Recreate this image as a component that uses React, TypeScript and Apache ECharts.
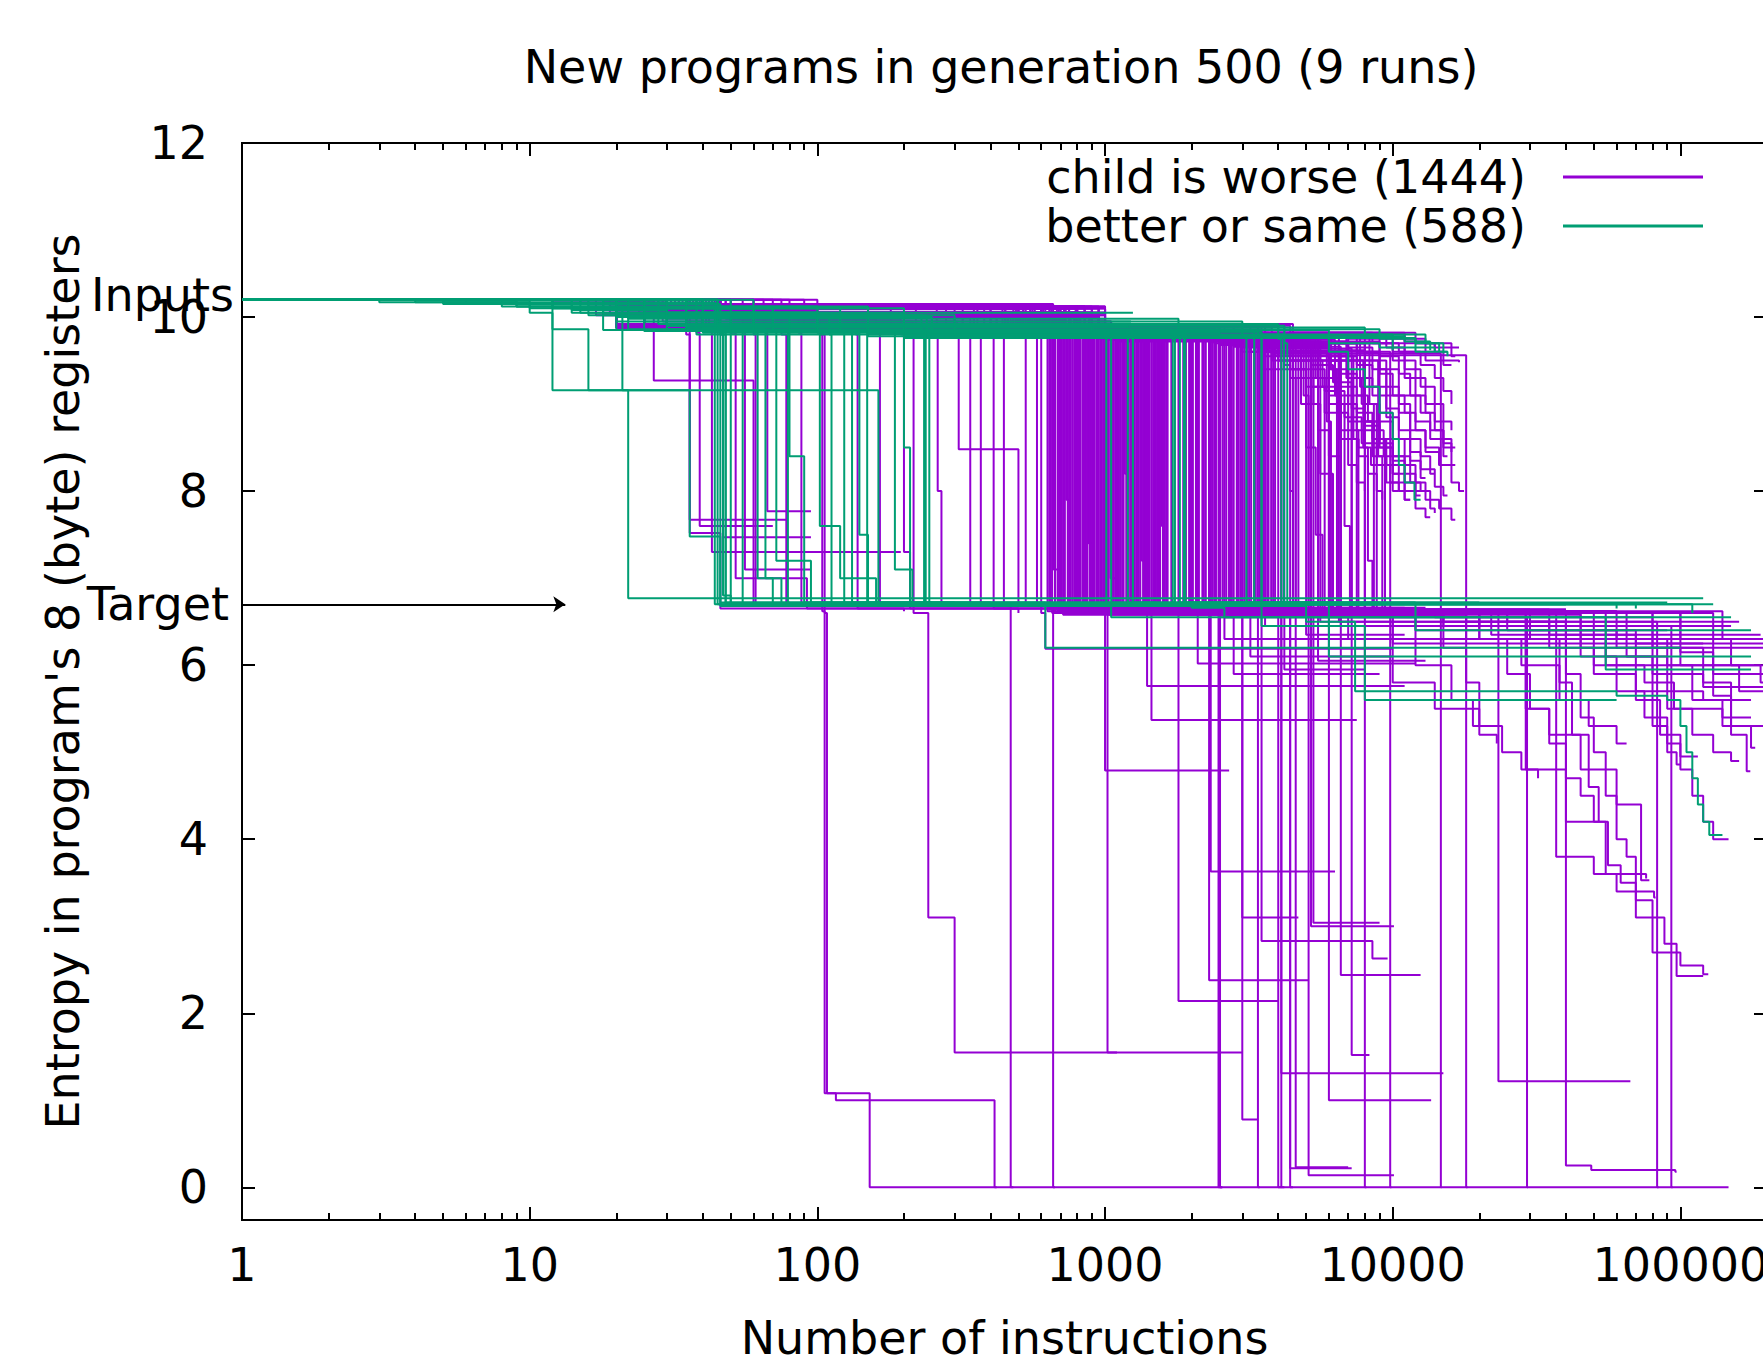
import React, { useEffect, useRef } from "react";
import * as echarts from "echarts";

const TITLE = "New programs in generation 500 (9 runs)";
const X_NAME = "Number of instructions";
const Y_NAME = "Entropy in program's 8 (byte) registers";
const WORSE_NAME = "child is worse (1444)";
const BETTER_NAME = "better or same (588)";
const WORSE_COLOR = "#9400D3";
const BETTER_COLOR = "#009E73";

const X_MIN = 1;
const X_MAX = 200000;
const Y_MIN = -0.375;
const Y_MAX = 12;
const X_TICKS = [1, 10, 100, 1000, 10000, 100000];
const X_MINOR_MULT = [2, 3, 4, 5, 6, 7, 8, 9];
const Y_TICKS = [0, 2, 4, 6, 8, 10, 12];

const INPUTS_ENTROPY = 10.2;
const TARGET_ENTROPY = 6.7;
const TARGET_ARROW_END = 13.3;
const ANNOTATIONS = [
  { label: "Inputs", y: 10.25, dist: 8 },
  { label: "Target", y: 6.7, dist: 13 },
];

// Each trace starts at (1, INPUTS_ENTROPY); pairs are (instructions, entropy), drawn as steps.
const worseTraces: number[][] = [
  // top band, early part
  [2, 10.2, 18, 10.17, 24, 10.17],
  [12, 10.17, 30, 10.15, 46, 10.15],
  [9, 10.15, 20, 10.12, 46, 10.1, 57, 10.1],
  [25, 10.12, 60, 10.08, 100, 10.05, 200, 10.03, 300, 10.03],
  [15, 10.15, 60, 10.12, 260, 10.12],
  [20, 10.12, 35, 10.09, 520, 10.09],
  [22, 10.1, 30, 10.02, 960, 10.02],
  [26, 10.08, 100, 9.92, 1840, 9.92],
  // left verticals
  [20, 10.17, 27, 9.27, 57, 9.27, 60, 6.7, 600, 6.65],
  [25, 10.15, 36, 7.52, 46, 6.65, 200, 6.62],
  [30, 10.12, 35, 9.8, 36, 7.67, 79, 7.67],
  [30, 10.1, 38, 9.82, 39, 7.6, 70, 7.6],
  [32, 10.1, 42, 9.85, 43, 7.3, 195, 7.3],
  [35, 10.1, 46, 9.8, 47, 7.47, 95, 7.47],
  [35, 10.08, 50, 9.82, 52, 7.0, 90, 7.0, 92, 6.65, 500, 6.6],
  [36, 10.08, 55, 9.85, 56, 7.1, 95, 7.1],
  [38, 10.05, 60, 9.8, 61, 6.7, 300, 6.68],
  [40, 10.05, 66, 9.82, 67, 7.77, 95, 7.77],
  [42, 10.05, 75, 9.8, 78, 6.7, 1500, 6.6],
  [44, 10.02, 86, 9.82, 88, 6.7, 4000, 6.6],
  [46, 10.02, 100, 9.85, 104, 6.62, 106, 1.08, 116, 1.0, 413, 0, 420, 0],
  [46, 10.0, 102, 9.8, 106, 6.6, 108, 1.08, 152, 0, 147000, 0],
  [48, 10.0, 136, 9.8, 138, 6.65, 3000, 6.6],
  [48, 9.98, 160, 9.82, 165, 6.7, 2000, 6.62],
  [50, 9.98, 195, 9.8, 200, 7.3, 210, 6.65, 800, 6.6],
  [50, 9.95, 214, 9.82, 216, 6.6, 243, 3.1, 300, 1.55, 3000, 1.55],
  [55, 9.95, 306, 9.8, 310, 8.48, 480, 8.48, 500, 6.7, 1000, 6.62],
  [60, 9.92, 335, 9.82, 340, 6.7, 5000, 6.6],
  [60, 9.9, 367, 9.8, 370, 6.7, 470, 0, 480, 0],
  [65, 9.9, 400, 9.82, 410, 6.65, 660, 0, 670, 0],
  [70, 9.88, 440, 9.8, 445, 6.7, 8000, 6.6],
  [75, 9.85, 526, 9.82, 530, 6.7, 1000, 4.79, 2700, 4.79],
  [80, 9.85, 574, 9.8, 580, 6.7, 1800, 2.14, 4000, 2.14],
  [90, 9.85, 260, 9.8, 262, 8.0, 270, 6.7, 1200, 6.65],
  [100, 9.85, 800, 9.8, 1020, 1.55, 1100, 1.55],
  // dense block
  [20, 10.1, 150, 9.82, 631, 6.62, 3000, 6.62],
  [25, 10.05, 200, 9.8, 648, 6.66, 1500, 6.66],
  [30, 10.12, 180, 9.84, 662, 7.1, 700, 6.62, 9000, 6.62],
  [35, 10.02, 250, 9.78, 684, 6.6, 20000, 6.6],
  [40, 10.1, 300, 9.82, 698, 6.64, 5000, 6.64],
  [18, 10.15, 220, 9.8, 715, 6.58, 12000, 6.58],
  [22, 10.05, 350, 9.85, 733, 7.9, 760, 7.9],
  [28, 10.1, 260, 9.8, 742, 6.65, 2500, 6.65],
  [33, 10.02, 400, 9.83, 760, 6.6, 7000, 6.3, 50000, 6.3],
  [38, 10.12, 280, 9.78, 781, 6.7, 1800, 6.7],
  [42, 10.05, 320, 9.82, 796, 6.6, 900, 6.6],
  [45, 10.1, 450, 9.8, 812, 6.62, 30000, 6.62],
  [15, 10.15, 500, 9.84, 834, 6.66, 4000, 6.66],
  [20, 10.12, 380, 9.79, 851, 6.6, 15000, 6.45, 100000, 6.45],
  [26, 10.02, 420, 9.82, 876, 7.4, 900, 7.4],
  [31, 10.1, 520, 9.8, 890, 6.62, 2200, 6.62],
  [36, 10.05, 480, 9.83, 912, 6.6, 10000, 6.25, 120000, 6.25],
  [41, 10.12, 550, 9.78, 934, 6.68, 1600, 6.68],
  [46, 10.02, 300, 9.8, 950, 6.6, 25000, 6.6],
  [17, 10.1, 600, 9.82, 975, 6.62, 3500, 6.62],
  [23, 10.15, 350, 9.84, 998, 6.64, 7000, 6.64],
  [29, 10.05, 450, 9.8, 1030, 6.58, 45000, 6.2, 200000, 6.2],
  [34, 10.1, 500, 9.78, 1044, 7.0, 1100, 7.0],
  [39, 10.02, 400, 9.82, 1070, 6.62, 2000, 6.62],
  [44, 10.12, 550, 9.8, 1095, 6.66, 13000, 6.66],
  [19, 10.05, 600, 9.83, 1118, 6.6, 5500, 6.6],
  [24, 10.1, 620, 9.79, 1150, 6.62, 18000, 6.5, 160000, 6.5],
  [30, 10.02, 640, 9.82, 1172, 8.2, 1200, 8.2],
  [35, 10.15, 660, 9.8, 1195, 6.64, 3000, 6.64],
  [40, 10.05, 700, 9.84, 1228, 6.6, 60000, 6.6],
  [45, 10.1, 720, 9.78, 1252, 6.62, 8000, 6.62],
  [16, 10.12, 750, 9.82, 1283, 6.68, 2600, 6.68],
  [21, 10.02, 780, 9.8, 1310, 6.6, 22000, 6.35, 190000, 6.35],
  [27, 10.1, 800, 9.83, 1342, 7.2, 1380, 7.2],
  [32, 10.05, 820, 9.79, 1370, 6.62, 4500, 6.62],
  [37, 10.12, 850, 9.82, 1402, 6.66, 11000, 6.66],
  [43, 10.02, 880, 9.8, 1430, 6.6, 35000, 6.6],
  [18, 10.1, 900, 9.84, 1470, 6.62, 6000, 6.62],
  [24, 10.05, 950, 9.78, 1500, 6.64, 2400, 6.64],
  [29, 9.95, 1000, 9.82, 1540, 6.6, 14000, 6.55, 80000, 6.55],
  [35, 9.95, 1050, 9.8, 1575, 7.6, 1600, 7.6],
  [41, 9.92, 1100, 9.83, 1610, 6.62, 9500, 6.62],
  [46, 9.9, 1150, 9.79, 1650, 6.66, 3800, 6.66],
  [20, 10.02, 300, 9.8, 655, 6.6, 1000, 6.6],
  [25, 10.1, 320, 9.81, 692, 6.62, 2000, 6.62],
  [30, 10.05, 340, 9.79, 725, 6.64, 1300, 6.64],
  [35, 10.12, 360, 9.8, 770, 6.6, 3000, 6.6],
  [40, 10.02, 380, 9.82, 805, 6.62, 1100, 6.62],
  [45, 10.1, 400, 9.8, 842, 6.6, 6000, 6.6],
  [18, 10.05, 420, 9.79, 866, 6.64, 1500, 6.64],
  [23, 10.15, 440, 9.81, 901, 6.6, 2500, 6.6],
  [28, 10.02, 460, 9.8, 942, 6.62, 4000, 6.62],
  [33, 10.1, 480, 9.82, 986, 6.6, 1800, 6.6],
  [38, 10.05, 500, 9.79, 1057, 6.64, 9000, 6.64],
  [43, 10.12, 520, 9.8, 1106, 6.6, 3000, 6.6],
  [17, 10.02, 540, 9.82, 1160, 6.62, 2200, 6.62],
  [22, 10.1, 560, 9.79, 1210, 6.6, 7000, 6.6],
  [27, 10.05, 580, 9.8, 1267, 6.64, 5000, 6.64],
  [32, 10.15, 600, 9.81, 1326, 6.6, 2000, 6.6],
  [37, 10.02, 620, 9.8, 1387, 6.62, 16000, 6.62],
  [42, 10.1, 640, 9.82, 1452, 6.6, 4000, 6.6],
  [46, 10.05, 660, 9.79, 1518, 6.64, 2500, 6.64],
  [19, 10.12, 680, 9.8, 1589, 6.6, 8000, 6.6],
  [24, 10.02, 700, 9.81, 1630, 6.62, 3000, 6.62],
  [26, 10.1, 450, 9.8, 640, 6.64, 1200, 6.64],
  [31, 10.05, 470, 9.82, 670, 6.6, 2500, 6.6],
  [36, 10.12, 490, 9.79, 707, 6.62, 1400, 6.62],
  [41, 10.02, 510, 9.8, 750, 6.6, 4000, 6.6],
  [21, 10.1, 530, 9.81, 788, 6.64, 2000, 6.64],
  [26, 10.05, 550, 9.8, 820, 6.6, 5000, 6.6],
  [31, 10.12, 570, 9.82, 858, 6.62, 1300, 6.62],
  [36, 10.02, 590, 9.79, 883, 6.6, 3000, 6.6],
  [41, 10.1, 610, 9.8, 920, 6.64, 7000, 6.64],
  [46, 10.05, 630, 9.81, 962, 6.6, 2000, 6.6],
  [21, 10.15, 650, 9.8, 1010, 6.62, 6000, 6.62],
  [26, 10.02, 670, 9.82, 1084, 6.6, 3500, 6.6],
  [31, 10.1, 690, 9.79, 1135, 6.64, 10000, 6.64],
  [36, 10.05, 710, 9.8, 1185, 6.6, 2500, 6.6],
  [41, 10.12, 730, 9.81, 1240, 6.62, 4500, 6.62],
  [46, 10.02, 760, 9.8, 1297, 6.6, 12000, 6.6],
  [21, 10.1, 790, 9.82, 1356, 6.64, 3000, 6.64],
  [26, 10.05, 820, 9.79, 1419, 6.6, 9000, 6.6],
  [31, 10.12, 850, 9.8, 1485, 6.62, 5000, 6.62],
  [36, 10.02, 880, 9.81, 1553, 6.6, 2200, 6.6],
  // right part of the block
  [20, 10.02, 900, 9.78, 1870, 6.6, 7000, 6.6],
  [25, 10.0, 950, 9.8, 1910, 6.62, 26000, 6.62],
  [30, 9.98, 1000, 9.76, 1960, 6.64, 5000, 6.64],
  [35, 9.95, 1050, 9.8, 2020, 6.6, 12000, 6.4, 90000, 6.4],
  [40, 9.92, 1100, 9.78, 2070, 6.62, 3300, 6.62],
  [45, 9.9, 1150, 9.8, 2120, 6.6, 16000, 6.6],
  [20, 9.88, 1200, 9.76, 2180, 6.64, 8000, 6.64],
  [25, 9.9, 1250, 9.8, 2240, 6.6, 45000, 6.6],
  [30, 9.92, 1300, 9.78, 2300, 6.62, 4200, 6.62],
  [35, 9.88, 1350, 9.8, 2360, 6.6, 10000, 6.6],
  [40, 9.9, 1400, 9.76, 2430, 6.64, 20000, 6.3, 140000, 6.3],
  [45, 9.92, 1450, 9.8, 2480, 0, 2550, 0],
  [20, 9.88, 1500, 9.78, 2510, 0, 2560, 0],
  [25, 9.9, 1550, 9.76, 2560, 6.62, 6000, 6.62],
  [30, 9.92, 1600, 9.8, 2640, 6.6, 30000, 6.6],
  [35, 9.88, 1650, 9.78, 2720, 6.62, 5500, 6.62],
  [40, 9.9, 1700, 9.76, 2800, 6.6, 14000, 6.6],
  [45, 9.92, 1750, 9.8, 2870, 6.64, 9000, 6.64],
  [20, 9.88, 1800, 9.78, 3050, 6.6, 70000, 6.6],
  [25, 9.9, 1850, 9.76, 3130, 6.62, 7500, 6.62],
  [30, 9.92, 1900, 9.8, 3220, 6.6, 18000, 6.6],
  [35, 9.88, 1950, 9.78, 3320, 6.64, 5000, 6.64],
  [40, 9.9, 2000, 9.76, 3400, 0, 3450, 0],
  [45, 9.92, 2050, 9.8, 3450, 6.6, 12000, 6.6],
  [20, 9.88, 2100, 9.78, 3560, 6.62, 25000, 6.62],
  [25, 9.9, 2150, 9.76, 3680, 6.6, 8500, 6.6],
  [30, 9.92, 2200, 9.8, 3780, 6.64, 40000, 6.64],
  [35, 9.88, 2250, 9.78, 3900, 6.6, 11000, 6.6],
  [40, 9.9, 2300, 9.76, 4000, 0, 4100, 0],
  [45, 9.92, 2350, 9.8, 4100, 0, 4200, 0],
  [20, 9.88, 2400, 9.78, 4200, 6.62, 15000, 6.62],
  [25, 10.02, 700, 9.78, 1890, 6.62, 3000, 6.62],
  [30, 10.1, 750, 9.79, 1990, 6.6, 4000, 6.6],
  [35, 10.05, 800, 9.8, 2090, 6.64, 2600, 6.64],
  [40, 10.12, 850, 9.77, 2200, 6.6, 5000, 6.6],
  [45, 10.02, 900, 9.78, 2330, 6.62, 3500, 6.62],
  [20, 10.1, 950, 9.8, 2600, 6.6, 6000, 6.6],
  [25, 10.05, 1000, 9.78, 2760, 6.64, 4500, 6.64],
  [30, 9.9, 1050, 9.79, 2950, 6.6, 8000, 6.6],
  [35, 9.92, 1100, 9.77, 3170, 6.62, 5200, 6.62],
  [40, 9.88, 1150, 9.78, 3380, 6.6, 7000, 6.6],
  [45, 9.9, 1200, 9.8, 3620, 6.64, 9000, 6.64],
  [20, 9.92, 1250, 9.79, 3840, 6.6, 6000, 6.6],
  // drops to low entropy
  [30, 10.05, 800, 9.8, 3000, 9.75, 4400, 0, 4500, 0],
  [35, 10.1, 850, 9.8, 3000, 9.72, 4600, 0.23, 7000, 0.23],
  [40, 10.02, 900, 9.78, 3100, 9.7, 5100, 0.14, 10100, 0.14],
  [45, 10.12, 950, 9.8, 3200, 9.7, 5300, 3.04, 9000, 3.04],
  [20, 10.05, 1000, 9.79, 3300, 9.68, 6000, 1.0, 13600, 1.0],
  [25, 9.9, 1050, 9.8, 3400, 9.66, 6600, 2.44, 12500, 2.44],
  [30, 9.92, 1100, 9.78, 3500, 9.64, 7200, 1.52, 8300, 1.52],
  [35, 9.88, 1150, 9.8, 3600, 9.62, 8000, 0, 8100, 0],
  [40, 9.9, 1200, 9.79, 3700, 9.6, 9800, 0, 9900, 0],
  [45, 9.92, 1250, 9.8, 3800, 9.58, 14700, 0, 14800, 0],
  [20, 9.88, 1300, 9.78, 3900, 9.56, 18000, 0, 18200, 0],
  [25, 9.9, 1350, 9.8, 4000, 9.55, 4100, 1.31, 15000, 1.31],
  [30, 10.05, 900, 9.76, 2300, 2.38, 5100, 2.38],
  [35, 10.1, 950, 9.75, 3500, 2.83, 8500, 2.63, 9600, 2.63],
  [40, 10.02, 1000, 9.74, 3000, 0.78, 3400, 0.78],
  [45, 9.9, 1050, 9.74, 3000, 3.1, 4700, 3.1],
  [20, 9.92, 1100, 9.72, 5200, 3.0, 10100, 3.0],
  [25, 10.1, 1000, 9.78, 2330, 3.63, 6300, 3.63],
  [30, 9.9, 1200, 9.8, 4000, 9.6, 4500, 6.6, 23300, 1.22, 67000, 1.22],
  [35, 9.88, 1300, 9.8, 5000, 9.6, 5500, 6.55, 29300, 0, 29500, 0],
  [40, 9.9, 1400, 9.79, 5000, 9.6, 5600, 6.5, 40000, 0.25, 49000, 0.2, 96000, 0.18, 97000, 0.18],
  [45, 9.92, 1500, 9.8, 6000, 9.5, 6500, 6.5, 83000, 0, 84000, 0],
  [20, 9.88, 1600, 9.78, 6000, 9.5, 6600, 6.45, 93000, 0, 94000, 0],
  [25, 10.12, 1000, 9.78, 1600, 6.6, 4400, 0.22, 7200, 0.22],
  // upper right fan
  [30, 10.05, 500, 9.8, 5000, 9.7, 7000, 9.5, 8000, 9.2, 9000, 8.9, 10000, 8.6, 11000, 8.3, 12000, 8.1, 13000, 7.9, 14500, 7.8, 16000, 7.67, 16500, 7.67],
  [35, 10.1, 600, 9.82, 6000, 9.7, 8000, 9.5, 9500, 9.2, 10500, 9.0, 11500, 8.7, 13000, 8.5, 14500, 8.3, 16000, 8.1, 17000, 8.0, 17700, 8.0],
  [40, 10.02, 700, 9.8, 4500, 9.65, 6000, 9.4, 7000, 9.1, 8000, 8.8, 9000, 8.5, 10000, 8.2, 11000, 8.0, 12000, 7.8, 13000, 7.7, 13500, 7.7],
  [45, 10.12, 800, 9.78, 5000, 9.6, 6500, 9.2, 7500, 8.9, 8500, 8.6, 9500, 8.3, 10500, 8.0, 11000, 7.9, 11500, 7.9],
  [20, 10.05, 900, 9.8, 7000, 9.75, 10000, 9.6, 13000, 9.5, 15000, 9.45, 16000, 9.45],
  [25, 10.1, 1000, 9.82, 8000, 9.8, 11000, 9.7, 14000, 9.6, 15500, 9.6],
  [30, 9.9, 1100, 9.78, 4000, 9.6, 5500, 9.3, 6500, 9.0, 7500, 8.7, 8500, 8.4, 9500, 8.1, 10000, 8.0, 10500, 8.0],
  [35, 9.92, 1200, 9.8, 6000, 9.5, 7000, 9.3, 8000, 9.0, 9000, 8.8, 10000, 8.4, 11000, 8.2, 12000, 8.0, 13500, 7.8, 14000, 7.75],
  [40, 9.9, 1300, 9.82, 9000, 9.7, 11000, 9.5, 12000, 9.3, 13000, 9.0, 14000, 8.8, 15000, 8.5, 16000, 8.3, 16500, 8.3],
  [45, 9.88, 1400, 9.78, 3000, 9.6, 4500, 9.3, 6000, 9.1, 7000, 8.8, 8500, 8.5, 10000, 8.2, 10500, 8.2],
  [20, 9.9, 1500, 9.8, 10000, 9.75, 13000, 9.7, 16000, 9.65, 17000, 9.65],
  [25, 9.92, 1600, 9.76, 5500, 9.6, 6500, 9.35, 7500, 9.1, 8200, 8.8, 9000, 8.6, 10000, 8.4, 11500, 8.1, 12500, 8.0, 13000, 8.0],
  [30, 9.88, 1700, 9.78, 7500, 9.6, 9000, 9.4, 10500, 9.1, 12000, 8.8, 13500, 8.6, 15000, 8.4, 15500, 8.4],
  [35, 9.9, 1800, 9.8, 4000, 9.5, 5000, 9.2, 5800, 8.9, 6500, 8.6, 7000, 8.3, 7500, 8.1, 8000, 8.0],
  [40, 9.92, 1900, 9.75, 3500, 9.4, 4800, 9.0, 5500, 8.7, 6000, 8.4, 6600, 8.2],
  [20, 10.1, 600, 9.78, 6000, 9.55, 7000, 9.3, 7800, 9.0, 8600, 8.7, 9300, 8.4, 10000, 8.1, 11000, 7.9, 11500, 7.9],
  [25, 10.05, 700, 9.8, 7000, 9.65, 8500, 9.4, 9500, 9.1, 10500, 8.9, 11500, 8.6, 12500, 8.4, 13500, 8.2, 14000, 8.2],
  [30, 10.1, 800, 9.82, 8500, 9.7, 10000, 9.5, 11000, 9.3, 12000, 9.1, 13000, 8.9, 14000, 8.7, 15000, 8.6, 16000, 8.5, 16500, 8.5],
  [35, 10.02, 900, 9.8, 5000, 9.5, 5700, 9.2, 6400, 8.9, 7000, 8.6, 7600, 8.4, 8200, 8.2, 8800, 8.0, 9200, 7.9],
  [40, 10.12, 1000, 9.78, 6500, 9.55, 7500, 9.3, 8500, 9.1, 9500, 8.85, 10500, 8.6, 11500, 8.35, 12500, 8.15, 13000, 8.15],
  [45, 9.9, 1100, 9.8, 9500, 9.65, 11000, 9.4, 12500, 9.2, 14000, 9.0, 15000, 8.8, 16000, 8.7],
  [20, 9.92, 1200, 9.82, 11000, 9.72, 13000, 9.6, 15000, 9.5, 17000, 9.48],
  [25, 9.88, 1300, 9.78, 4500, 9.5, 5200, 9.2, 6000, 9.0, 6800, 8.7, 7600, 8.5, 8400, 8.3, 9000, 8.3],
  [30, 9.9, 1400, 9.8, 8000, 9.6, 9000, 9.35, 10000, 9.1, 11000, 8.9, 12000, 8.7, 13000, 8.45, 14500, 8.3, 15000, 8.3],
  [35, 9.92, 1500, 9.82, 12000, 9.7, 14000, 9.65, 16000, 9.55, 16500, 9.55],
  [20, 9.9, 3000, 9.7, 7500, 9.45, 8500, 9.2, 9500, 8.95, 10500, 8.7, 11500, 8.45, 12500, 8.25, 14000, 8.05, 15000, 7.95, 15500, 7.95],
  [25, 9.88, 3500, 9.72, 9000, 9.55, 10500, 9.35, 11500, 9.1, 12500, 8.9, 13500, 8.7, 15000, 8.55, 16000, 8.45],
  [30, 9.9, 2500, 9.68, 5200, 9.45, 6200, 9.25, 7200, 8.95, 8000, 8.75, 9000, 8.55, 10000, 8.35, 11000, 8.1, 12000, 7.95, 12500, 7.95],
  [35, 9.92, 4500, 9.7, 10500, 9.6, 12500, 9.45, 14000, 9.3, 15000, 9.15, 16000, 9.0],
  [40, 9.9, 2800, 9.66, 4800, 9.4, 5800, 9.15, 6800, 8.85, 7800, 8.55, 8800, 8.3, 9800, 8.1, 10500, 8.0],
  // fan traces that fall to the target band
  [40, 9.9, 2000, 9.76, 4500, 9.4, 5000, 6.6, 30000, 6.55],
  [45, 9.92, 2000, 9.74, 5400, 9.3, 5800, 6.62, 12000, 6.62],
  [20, 9.88, 2200, 9.74, 6300, 9.1, 6600, 6.6, 20000, 6.45, 150000, 6.45],
  [25, 9.9, 2300, 9.72, 7000, 9.0, 7500, 6.62, 60000, 6.62],
  [30, 9.92, 2400, 9.7, 8000, 8.8, 8600, 6.6, 40000, 6.6],
  [35, 9.88, 2500, 9.7, 9000, 8.6, 9400, 6.62, 16000, 6.62],
  [40, 10.1, 700, 9.8, 4800, 9.55, 5200, 6.62, 22000, 6.62],
  [45, 10.02, 800, 9.78, 5600, 9.5, 6000, 6.6, 9000, 6.6],
  [20, 10.12, 900, 9.8, 6100, 9.4, 6400, 6.64, 30000, 6.64],
  [25, 10.05, 1000, 9.79, 6900, 9.3, 7200, 6.6, 14000, 6.6],
  [30, 9.9, 1100, 9.8, 7700, 9.2, 8000, 6.62, 50000, 6.62],
  [35, 9.92, 1200, 9.78, 8300, 9.0, 8800, 6.6, 25000, 6.6],
  [40, 9.88, 1300, 9.8, 4300, 9.6, 4700, 6.64, 10000, 6.64],
  [30, 9.9, 2600, 9.7, 4400, 9.3, 4600, 6.62, 20000, 6.62],
  [35, 9.9, 2800, 9.7, 4900, 9.1, 5100, 6.6, 9000, 6.6],
  [40, 9.88, 3000, 9.65, 5300, 9.0, 5600, 8.2, 6200, 6.64, 40000, 6.64],
  [45, 9.9, 3200, 9.6, 5900, 8.8, 6100, 6.6, 12000, 6.6],
  [20, 9.92, 3400, 9.6, 6500, 8.7, 6800, 7.6, 7100, 6.62, 18000, 6.62],
  [25, 9.9, 3600, 9.55, 7300, 8.6, 7600, 6.6, 30000, 6.6],
  [30, 9.88, 3800, 9.5, 7900, 8.5, 8200, 7.2, 8500, 6.62, 11000, 6.62],
  [35, 9.9, 4000, 9.5, 8900, 8.4, 9200, 6.6, 60000, 6.6],
  [40, 9.92, 4200, 9.45, 4400, 8.0, 4500, 6.64, 8000, 6.64],
  [45, 9.9, 4400, 9.4, 5000, 8.5, 5400, 7.5, 5700, 6.6, 14000, 6.6],
  // mid cluster below the target
  [20, 10.05, 900, 9.8, 2200, 6.6, 2600, 6.3, 9000, 6.3],
  [25, 10.1, 1000, 9.82, 2400, 6.62, 3200, 6.1, 10000, 6.1],
  [30, 9.9, 1100, 9.8, 2700, 6.58, 3600, 6.45, 12000, 6.45],
  [35, 9.92, 1200, 9.79, 3000, 6.6, 4200, 5.95, 8000, 5.95],
  [40, 9.88, 1300, 9.8, 3300, 6.62, 5000, 6.35, 11000, 6.35],
  [45, 9.9, 1400, 9.81, 3600, 6.6, 5500, 6.05, 13000, 6.05],
  [20, 10.05, 300, 9.8, 600, 6.6, 620, 6.19, 10000, 6.19],
  [25, 10.1, 400, 9.8, 1000, 6.6, 1400, 5.76, 11000, 5.76],
  [30, 10.02, 500, 9.8, 1200, 6.6, 1450, 5.37, 7500, 5.37],
  [35, 10.12, 600, 9.8, 2000, 6.6, 2100, 6.02, 12000, 6.02],
  [40, 10.05, 700, 9.8, 2500, 6.55, 2800, 5.9, 9000, 5.9],
  // lower right fan
  [45, 10.1, 500, 9.8, 1100, 6.62, 40000, 5.9, 45000, 5.4, 50000, 5.0, 55000, 4.5, 60000, 4.0, 65000, 3.8, 70000, 3.6, 76000, 3.55],
  [20, 10.02, 600, 9.8, 1200, 6.6, 30000, 6.3, 38000, 5.8, 42000, 5.2, 48000, 4.6, 52000, 4.2, 56000, 3.7, 62000, 3.5, 70000, 3.3, 80000, 3.1, 88000, 2.8, 97000, 2.43, 120000, 2.43],
  [25, 10.12, 700, 9.8, 1300, 6.6, 25000, 6.4, 50000, 6.0, 70000, 5.6, 85000, 5.2, 100000, 4.8, 110000, 4.5, 120000, 4.2, 130000, 4.0, 147000, 4.0],
  [30, 10.05, 800, 9.8, 1400, 6.62, 60000, 6.3, 90000, 6.0, 110000, 5.6, 140000, 5.4, 176000, 5.4],
  [35, 10.1, 900, 9.8, 1500, 6.6, 80000, 6.2, 120000, 5.8, 150000, 5.3, 176000, 5.05, 182000, 5.05],
  [40, 10.02, 1000, 9.8, 1600, 6.62, 29000, 5.5, 35000, 5.2, 45000, 4.8, 60000, 4.4, 73000, 3.53, 78000, 3.53],
  [45, 9.9, 1100, 9.8, 1700, 6.6, 20000, 6.3, 25000, 5.9, 30000, 5.5, 35000, 5.1, 40000, 4.7, 45000, 4.5, 50000, 4.2, 52000, 4.2],
  [20, 9.92, 1200, 9.8, 1800, 6.58, 15000, 6.2, 18000, 5.8, 20000, 5.3, 24000, 5.0, 28000, 4.8, 32000, 4.7],
  [25, 9.88, 1300, 9.8, 1900, 6.6, 100000, 6.3, 150000, 6.0, 190000, 5.8, 200000, 5.8],
  [30, 9.9, 1400, 9.8, 2000, 6.62, 50000, 6.4, 70000, 6.0, 90000, 5.7, 120000, 5.6, 176000, 5.6],
  [35, 9.92, 1500, 9.8, 2100, 6.6, 29000, 4.8, 40000, 4.2, 55000, 3.6, 70000, 3.1, 80000, 2.7, 100000, 2.55, 120000, 2.45, 125000, 2.45],
  [40, 9.88, 1600, 9.8, 2200, 6.6, 37000, 3.8, 50000, 3.6, 60000, 3.4, 81000, 3.33, 82000, 3.33],
  [45, 9.9, 1700, 9.8, 2300, 6.6, 80000, 5.3, 90000, 5.0, 97000, 4.86, 100000, 4.86],
  [20, 9.92, 1800, 9.8, 2400, 6.6, 130000, 5.65, 150000, 5.2, 170000, 4.78, 175000, 4.78],
  [25, 9.88, 1900, 9.8, 2500, 6.62, 10000, 5.8, 14000, 5.5, 20000, 5.2, 23000, 5.1],
  [30, 9.9, 2000, 9.8, 2600, 6.55, 12000, 6.0, 16000, 5.6, 19000, 5.3, 21000, 5.3],
  [20, 10.1, 600, 9.8, 1900, 6.62, 25000, 6.5, 40000, 6.3, 55000, 6.1, 80000, 5.9, 120000, 5.75, 200000, 5.75],
  [25, 10.05, 700, 9.82, 2100, 6.6, 30000, 6.4, 60000, 6.2, 100000, 6.0, 160000, 5.9, 200000, 5.9],
  [30, 10.12, 800, 9.79, 2300, 6.64, 15000, 6.5, 35000, 6.2, 50000, 5.9, 70000, 5.7, 90000, 5.5, 110000, 5.2, 130000, 5.0, 150000, 4.9, 160000, 4.9],
  [35, 10.02, 900, 9.8, 2500, 6.6, 45000, 6.1, 60000, 5.7, 75000, 5.4, 90000, 5.1, 100000, 4.95, 115000, 4.95],
  [40, 10.1, 1000, 9.81, 2700, 6.62, 55000, 6.0, 75000, 5.8, 95000, 5.5, 140000, 5.3, 200000, 5.3],
  [45, 9.9, 1100, 9.8, 2900, 6.58, 18000, 6.3, 28000, 6.0, 38000, 5.6, 48000, 5.3, 60000, 5.1, 65000, 5.1],
  [20, 9.92, 1200, 9.82, 3100, 6.6, 65000, 6.1, 90000, 6.0, 200000, 6.0],
  [25, 9.88, 1300, 9.79, 3300, 6.64, 35000, 6.35, 70000, 6.25, 200000, 6.25],
  [30, 9.9, 1400, 9.8, 3500, 6.6, 100000, 6.15, 130000, 5.9, 160000, 5.7, 200000, 5.65],
  [35, 9.92, 1500, 9.82, 3700, 6.62, 140000, 6.3, 200000, 6.1],
];

const betterTraces: number[][] = [
  [4, 10.17, 9, 10.12, 20, 10.05, 1250, 10.05],
  [3, 10.17, 10, 10.05, 12, 9.16, 22, 6.77, 120000, 6.77],
  [6, 10.15, 12, 9.86, 16, 9.16, 160, 9.16, 163, 6.7, 700, 6.7],
  [8, 10.12, 21, 9.16, 36, 7.48, 46, 6.68, 2500, 6.68],
  [5, 10.17, 44, 9.85, 45, 6.7, 2000, 6.66, 2600, 6.55, 150000, 6.55],
  [5, 10.15, 46, 9.8, 48, 6.72, 620, 6.2, 100000, 6.2],
  [9, 10.12, 45, 9.9, 47, 6.8, 50, 6.7, 12000, 6.4, 176000, 6.4],
  [10, 10.1, 60, 9.82, 62, 7.0, 75, 6.7, 40000, 6.7],
  [12, 10.1, 70, 9.85, 72, 7.2, 95, 6.72, 6000, 6.1, 176000, 6.1],
  [14, 10.05, 100, 9.85, 102, 7.6, 120, 7.0, 160, 6.7, 8000, 6.7],
  [15, 10.05, 110, 9.8, 112, 6.7, 70000, 6.65],
  [16, 10.02, 230, 9.85, 235, 6.72, 90000, 6.72],
  [18, 10.02, 240, 9.8, 245, 6.68, 5000, 6.5, 7400, 5.7, 60000, 5.65, 90000, 5.6, 100000, 5.3, 105000, 5.0, 110000, 4.7, 115000, 4.4, 120000, 4.2, 126000, 4.05, 140000, 4.05],
  [20, 10.0, 250, 9.82, 1700, 9.8, 1750, 6.7, 130000, 6.7],
  [22, 9.98, 1800, 9.78, 1820, 6.72, 20000, 6.72],
  [25, 9.95, 3000, 9.78, 3100, 6.7, 60000, 6.65],
  [28, 9.92, 4000, 9.75, 4100, 6.7, 110000, 6.6],
  [30, 9.9, 4200, 9.7, 4300, 6.72, 9000, 6.72],
  [35, 9.88, 8000, 9.8, 10000, 9.65, 14000, 9.6],
  [40, 9.86, 9000, 9.75, 12000, 9.6, 15500, 9.55],
  [45, 9.85, 6000, 9.6, 7000, 9.4, 8000, 9.2, 9000, 8.9, 10000, 8.6, 10500, 8.3, 11000, 8.1, 11900, 7.9, 12500, 7.9],
  [38, 9.8, 80, 8.4, 90, 6.72, 300, 6.72],
  [40, 9.82, 140, 7.5, 150, 6.7, 1000, 6.7],
  [30, 9.85, 200, 8.5, 210, 6.7, 2000, 6.7],
  [20, 10.05, 60, 9.83, 1000, 9.8, 1050, 6.55, 55000, 5.95, 176000, 5.95],
  [25, 10.1, 70, 9.83, 3400, 9.8, 3500, 6.45, 8000, 5.6, 60000, 5.6],
  [30, 10.02, 50, 9.85, 1000, 9.82, 1200, 6.7, 3000, 6.7],
  [35, 10.1, 60, 9.85, 1250, 6.72, 1500, 6.72],
  [40, 10.05, 100, 9.84, 3300, 6.7, 8000, 6.7],
  [45, 10.1, 120, 9.83, 3500, 6.72, 5000, 6.72],
  [20, 10.12, 150, 9.82, 1900, 6.7, 9000, 6.7],
  [30, 9.85, 55, 6.7, 200, 6.7],
  [30, 9.86, 66, 7.0, 70, 6.7, 150, 6.7],
  [35, 9.85, 79, 6.72, 400, 6.72],
  [40, 9.85, 124, 6.7, 500, 6.7],
  [40, 9.84, 132, 6.72, 250, 6.72],
  [45, 9.85, 149, 6.7, 1000, 6.7],
  [45, 9.83, 186, 7.1, 214, 6.7, 600, 6.7],
  [20, 9.85, 44, 6.7, 100, 6.7],
  [22, 9.86, 46, 6.72, 80, 6.72],
  [25, 9.84, 48, 6.7, 300, 6.7],
  [18, 9.85, 50, 6.68, 60, 6.68],
  [25, 10.05, 200, 9.8, 4190, 6.7, 40000, 6.7],
  [30, 10.1, 200, 9.78, 1880, 6.72, 12000, 6.72],
  [35, 10.02, 300, 9.8, 1720, 6.7, 5000, 6.7],
  [40, 10.12, 100, 9.82, 1010, 6.7, 2500, 6.7],
  [45, 10.05, 80, 9.8, 13000, 9.7, 14500, 9.6],
  [20, 10.1, 150, 9.78, 11000, 9.72, 13500, 9.62],
  [25, 10.02, 200, 9.76, 12000, 9.7, 15000, 9.58],
  [50, 9.9, 900, 9.82, 2500, 9.78, 6000, 9.7, 9000, 9.65, 10000, 9.62],
  [60, 9.84, 238, 6.7, 3000, 6.7],
  [12, 10.1, 20, 9.95, 1230, 9.95],
  [14, 10.08, 30, 9.9, 1200, 9.88],
];

const CHART_W = 1800;
const CHART_H = 1367;
const FONT = "DejaVu Sans";
const FONT_SIZE = 46;

function toPoints(trace: number[]): number[][] {
  const pts: number[][] = [[X_MIN, INPUTS_ENTROPY]];
  for (let i = 0; i + 1 < trace.length; i += 2) pts.push([trace[i], trace[i + 1]]);
  return pts;
}

function traceSeries(trace: number[], name: string, color: string) {
  return {
    type: "line",
    name,
    data: toPoints(trace),
    step: "end",
    showSymbol: false,
    symbol: "none",
    silent: true,
    clip: true,
    xAxisIndex: 0,
    yAxisIndex: 0,
    lineStyle: { color, width: 2 },
    itemStyle: { color },
    emphasis: { disabled: true },
  };
}

function buildOption() {
  const xMinor: number[] = [];
  X_TICKS.forEach((d) => X_MINOR_MULT.forEach((m) => { if (d * m < X_MAX) xMinor.push(d * m); }));
  const text = { fontFamily: FONT, fontSize: FONT_SIZE, color: "#000" };
  const tick = (values: number[], len: number) => ({
    show: true, inside: true, length: len, customValues: values,
    lineStyle: { color: "#000", width: 2 },
  });
  const logAxis = (position: string, values: number[], len: number, extra: any = {}) => ({
    type: "log", logBase: 10, min: X_MIN, max: X_MAX, position,
    axisLine: { show: false, onZero: false }, splitLine: { show: false }, minorTick: { show: false },
    axisTick: tick(values, len), axisLabel: { show: false }, ...extra,
  });
  const valAxis = (position: string, extra: any = {}) => ({
    type: "value", min: Y_MIN, max: Y_MAX, position,
    axisLine: { show: false, onZero: false }, splitLine: { show: false },
    axisTick: tick(Y_TICKS, 13), axisLabel: { show: false }, ...extra,
  });

  const series: any[] = [];
  worseTraces.forEach((t) => series.push(traceSeries(t, WORSE_NAME, WORSE_COLOR)));
  betterTraces.forEach((t) => series.push(traceSeries(t, BETTER_NAME, BETTER_COLOR)));
  series.push({
    type: "scatter",
    name: "annotations",
    symbolSize: 0,
    silent: true,
    clip: false,
    z: 10,
    itemStyle: { opacity: 1 },
    data: ANNOTATIONS.map((a) => ({
      value: [X_MIN, a.y],
      label: {
        show: true, formatter: a.label, position: "left", distance: a.dist,
        opacity: 1, textBorderWidth: 0, ...text,
      },
    })),
    markLine: {
      silent: true,
      symbol: ["none", "arrow"],
      symbolSize: 12,
      label: { show: false },
      lineStyle: { color: "#000", width: 2, type: "solid" },
      data: [[{ coord: [X_MIN, TARGET_ENTROPY] }, { coord: [TARGET_ARROW_END, TARGET_ENTROPY] }]],
    },
  });

  return {
    animation: false,
    backgroundColor: "#fff",
    textStyle: { fontFamily: FONT },
    title: {
      text: TITLE, left: 1001, top: 67, textAlign: "center", textVerticalAlign: "middle", padding: 0,
      textStyle: { fontFamily: FONT, fontSize: FONT_SIZE, fontWeight: "normal", color: "#000" },
    },
    legend: {
      data: [{ name: WORSE_NAME, icon: "rect" }, { name: BETTER_NAME, icon: "rect" }],
      orient: "vertical", align: "right", right: CHART_W - 1703, top: 152.5,
      itemWidth: 140, itemHeight: 3, itemGap: 0, padding: 0, selectedMode: false,
      textStyle: { fontFamily: FONT, fontSize: FONT_SIZE, color: "#000", lineHeight: 49, padding: [0, 32, 0, 0] },
    },
    grid: {
      left: 242, top: 143, width: 1525, height: 1077, show: true,
      borderColor: "#000", borderWidth: 2, backgroundColor: "transparent", containLabel: false,
      outerBoundsMode: "none",
    },
    xAxis: [
      logAxis("bottom", X_TICKS, 13, {
        axisLabel: { show: true, customValues: X_TICKS, margin: 22, formatter: (v: number) => String(Math.round(v)), ...text },
        name: X_NAME, nameLocation: "middle", nameGap: 95, nameTextStyle: text,
      }),
      logAxis("bottom", xMinor, 7),
      logAxis("top", X_TICKS, 13),
      logAxis("top", xMinor, 7),
    ],
    yAxis: [
      valAxis("left", {
        axisLabel: { show: true, customValues: Y_TICKS, margin: 34, formatter: (v: number) => String(v), ...text },
        name: Y_NAME, nameLocation: "middle", nameGap: 156, nameTextStyle: text,
      }),
      valAxis("right"),
    ],
    series,
  };
}

export default function App() {
  const ref = useRef<HTMLDivElement>(null);
  useEffect(() => {
    if (!ref.current) return;
    const chart = echarts.init(ref.current, undefined, { renderer: "svg" });
    chart.setOption(buildOption() as any);
    return () => chart.dispose();
  }, []);
  return (
    <div style={{ position: "fixed", left: 0, top: 0, width: 1763, height: CHART_H, overflow: "hidden", background: "#fff" }}>
      <div ref={ref} style={{ width: CHART_W, height: CHART_H }} />
    </div>
  );
}
